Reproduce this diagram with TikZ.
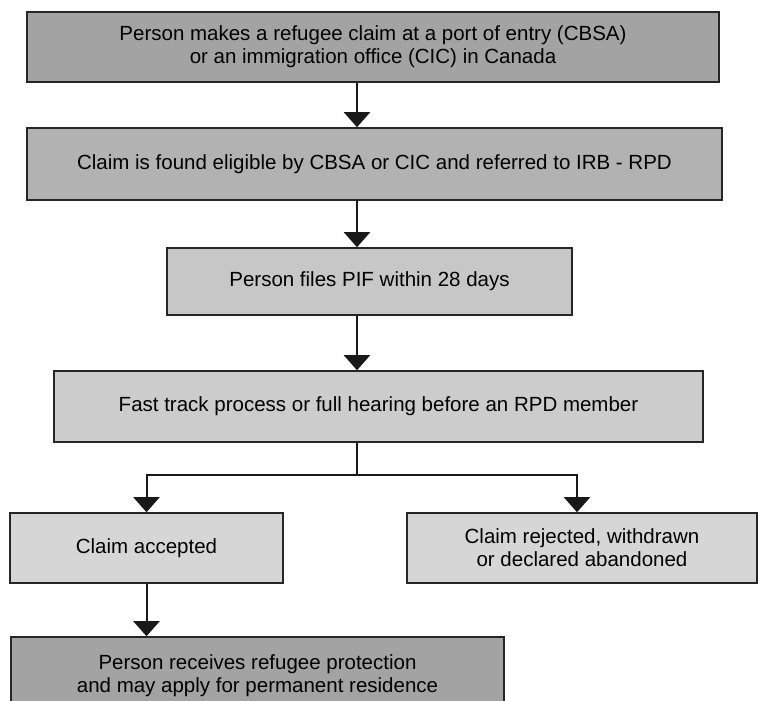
\documentclass[tikz,border=0pt]{standalone}
\usepackage{fontspec}
\setmainfont{Liberation Sans}
\usetikzlibrary{arrows.meta}

\begin{document}
\begin{tikzpicture}[x=1pt, y=1pt, >={Triangle[width=26pt,length=15pt]}, font=\fontsize{20.5}{23}\selectfont]

% Box and arrow styles
\tikzstyle{stage} = [draw=black!85, line width=1.5pt, rectangle, align=center, inner sep=0pt]
\tikzstyle{flow} = [->, line width=2pt, color=black!90]

\useasboundingbox (0,0) rectangle (760,701);

% Main column
\node[stage, fill=black!36, minimum width=692pt, minimum height=70pt] (claim) at (373,654) {Person makes a refugee claim at a port of entry (CBSA)\\or an immigration office (CIC) in Canada};
\node[stage, fill=black!30, minimum width=695pt, minimum height=72pt] (eligible) at (374.5,537) {Claim is found eligible by CBSA or CIC and referred to IRB - RPD};
\node[stage, fill=black!22, minimum width=405pt, minimum height=67pt] (pif) at (369.5,419.5) {Person files PIF within 28 days};
\node[stage, fill=black!20, minimum width=649pt, minimum height=71pt] (hearing) at (378.5,294.5) {Fast track process or full hearing before an RPD member};

% Decision boxes
\node[stage, fill=black!16, minimum width=273pt, minimum height=70pt] (accepted) at (146.5,153) {Claim accepted};
\node[stage, fill=black!16, minimum width=350pt, minimum height=70pt] (rejected) at (582,153) {Claim rejected, withdrawn\\or declared abandoned};
\node[stage, fill=black!36, minimum width=493pt, minimum height=78pt] (protection) at (257.5,25) {Person receives refugee protection\\and may apply for permanent residence};

% Arrows down the spine
\coordinate (spine) at (357,0);
\coordinate (split) at (357,226);
\draw[flow] (claim.south -| spine) -- (eligible.north -| spine);
\draw[flow] (eligible.south -| spine) -- (pif.north -| spine);
\draw[flow] (pif.south -| spine) -- (hearing.north -| spine);

% Split into outcomes
\draw[line width=2pt, color=black!90] (hearing.south -| spine) -- (split);
\draw[flow] (split) -| (accepted.north);
\draw[flow] (split) -| ([xshift=-5pt]rejected.north);
\draw[flow] (accepted.south) -- (protection.north -| accepted.south);

\end{tikzpicture}
\end{document}
